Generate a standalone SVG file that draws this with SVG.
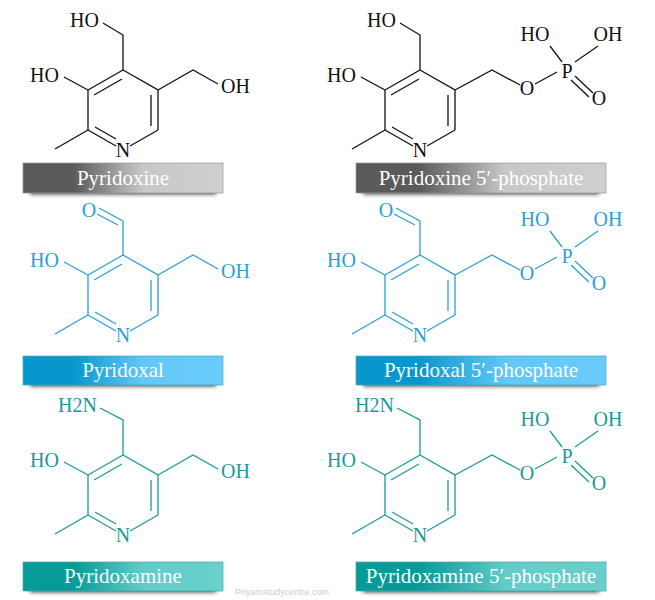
<svg xmlns="http://www.w3.org/2000/svg" width="655" height="600" viewBox="0 0 655 600">
<style>
text{font-family:"Liberation Serif","DejaVu Serif",serif;font-size:20px}
.lbl{font-size:21px;fill:#fff;text-anchor:middle}
.k{stroke:#111;fill:#111}
.b{stroke:#2a9fd6;fill:#2a9fd6}
.t{stroke:#1a9a96;fill:#1a9a96}
line,polyline{fill:none;stroke-width:1.3}
use text,g text{stroke:none}
</style>
<defs>
<linearGradient id="gk" x1="0" x2="1"><stop offset="0.25" stop-color="#5a5a5a"/><stop offset="0.6" stop-color="#c8c8c8"/><stop offset="1" stop-color="#cfcfcf"/></linearGradient>
<linearGradient id="gb" x1="0" x2="1"><stop offset="0.25" stop-color="#0897cc"/><stop offset="0.6" stop-color="#62c8f8"/><stop offset="1" stop-color="#6acbfb"/></linearGradient>
<linearGradient id="gt" x1="0" x2="1"><stop offset="0.25" stop-color="#069a98"/><stop offset="0.6" stop-color="#62cbc9"/><stop offset="1" stop-color="#6bcfcc"/></linearGradient>
<filter id="sh" x="-10%" y="-50%" width="120%" height="200%"><feGaussianBlur stdDeviation="2"/></filter>
<g id="ring">
<polyline points="88,90 88,130"/>
<line x1="123" y1="70" x2="88" y2="90"/>
<line x1="94" y1="95" x2="122" y2="79"/>
<line x1="88" y1="130" x2="116" y2="146"/>
<line x1="95" y1="127" x2="116" y2="139"/>
<line x1="130" y1="146" x2="158" y2="130"/>
<polyline points="158,130 158,90 123,70"/>
<line x1="151" y1="95" x2="151" y2="126"/>
<line x1="88" y1="90" x2="64" y2="77"/>
<line x1="88" y1="130" x2="55" y2="149"/>
<text x="123" y="157" text-anchor="middle">N</text>
<text x="59" y="82" text-anchor="end">HO</text>
</g>
<g id="oh">
<polyline points="158,90 193,70 218,84"/>
<text x="221" y="93">OH</text>
</g>
<g id="phos">
<polyline points="158,90 195,70 223,85"/>
<text x="230" y="95" text-anchor="middle">O</text>
<line x1="238" y1="84" x2="260" y2="72"/>
<text x="270" y="78" text-anchor="middle">P</text>
<text x="238" y="41" text-anchor="middle">HO</text>
<text x="311" y="41" text-anchor="middle">OH</text>
<line x1="253" y1="46" x2="265" y2="62"/>
<line x1="301" y1="46" x2="278" y2="62"/>
<line x1="278" y1="76" x2="296" y2="93"/>
<line x1="274" y1="80" x2="292" y2="97"/>
<text x="302" y="105" text-anchor="middle">O</text>
</g>
<g id="hoch2">
<polyline points="123,70 123,35 103,23"/>
<text x="99" y="27" text-anchor="end">HO</text>
</g>
<g id="cho">
<line x1="123" y1="70" x2="123" y2="36"/>
<line x1="123" y1="36" x2="99" y2="23"/>
<line x1="118" y1="40" x2="97" y2="29"/>
<text x="89" y="32" text-anchor="middle">O</text>
</g>
<g id="nh2">
<polyline points="123,70 123,35 100,23"/>
<text x="97" y="27" text-anchor="end">H2N</text>
</g>
</defs>

<g id="pyridoxine" class="k"><use href="#ring"/><use href="#hoch2"/><use href="#oh"/></g>
<g id="pyridoxine-5-phosphate" class="k" transform="translate(297,0)"><use href="#ring"/><use href="#hoch2"/><use href="#phos"/></g>
<g id="pyridoxal" class="b" transform="translate(0,185)"><use href="#ring"/><use href="#cho"/><use href="#oh"/></g>
<g id="pyridoxal-5-phosphate" class="b" transform="translate(297,185)"><use href="#ring"/><use href="#cho"/><use href="#phos"/></g>
<g id="pyridoxamine" class="t" transform="translate(0,385)"><use href="#ring"/><use href="#nh2"/><use href="#oh"/></g>
<g id="pyridoxamine-5-phosphate" class="t" transform="translate(297,385)"><use href="#ring"/><use href="#nh2"/><use href="#phos"/></g>

<g id="labels">
<g id="lbl1"><rect x="30" y="186" width="186" height="8" fill="#333" filter="url(#sh)"/><rect x="23" y="163" width="200" height="30" fill="url(#gk)" stroke="#999" stroke-width="0.7"/><text class="lbl" x="123" y="185">Pyridoxine</text></g>
<g id="lbl2"><rect x="363" y="186" width="236" height="8" fill="#333" filter="url(#sh)"/><rect x="356" y="163" width="250" height="30" fill="url(#gk)" stroke="#999" stroke-width="0.7"/><text class="lbl" x="481" y="185">Pyridoxine 5′-phosphate</text></g>
<g id="lbl3"><rect x="30" y="378" width="186" height="8" fill="#333" filter="url(#sh)"/><rect x="23" y="356" width="200" height="29" fill="url(#gb)" stroke="#4ab" stroke-width="0.7"/><text class="lbl" x="123" y="377">Pyridoxal</text></g>
<g id="lbl4"><rect x="363" y="378" width="236" height="8" fill="#333" filter="url(#sh)"/><rect x="356" y="356" width="250" height="29" fill="url(#gb)" stroke="#4ab" stroke-width="0.7"/><text class="lbl" x="481" y="377">Pyridoxal 5′-phosphate</text></g>
<g id="lbl5"><rect x="30" y="584" width="186" height="8" fill="#333" filter="url(#sh)"/><rect x="23" y="562" width="200" height="29" fill="url(#gt)" stroke="#4aa" stroke-width="0.7"/><text class="lbl" x="123" y="583">Pyridoxamine</text></g>
<g id="lbl6"><rect x="363" y="584" width="236" height="8" fill="#333" filter="url(#sh)"/><rect x="356" y="562" width="250" height="29" fill="url(#gt)" stroke="#4aa" stroke-width="0.7"/><text class="lbl" x="481" y="583">Pyridoxamine 5′-phosphate</text></g>
</g>
<text x="282" y="595" text-anchor="middle" style="font-family:'Liberation Sans',sans-serif;font-size:9px;fill:#ccc">Priyamstudycentre.com</text>
</svg>
